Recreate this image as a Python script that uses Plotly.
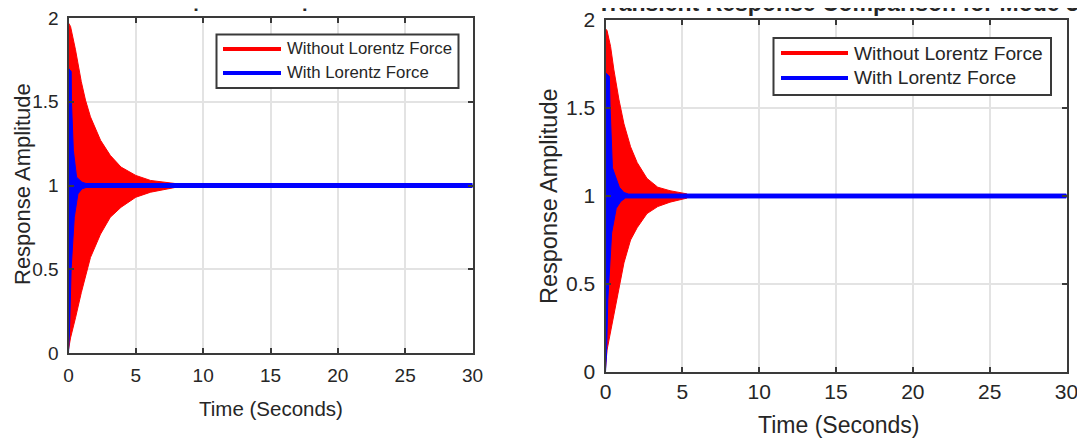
import plotly.graph_objects as go

# ---------------- data ----------------
# Left panel – without Lorentz force (red) envelope
L_red_t = [0, 0.15, 0.52, 0.95, 1.26, 1.63, 2.38, 3.1, 3.9, 5.0, 6.1, 7.0, 7.9]
L_red_up = [1.97, 1.95, 1.81, 1.62, 1.51, 1.41, 1.27, 1.18, 1.11, 1.06, 1.03, 1.02, 1.012]
L_red_lo = [0.02, 0.09, 0.21, 0.36, 0.46, 0.57, 0.71, 0.81, 0.87, 0.93, 0.96, 0.975, 0.988]
# Left panel – with Lorentz force (blue) envelope
L_blue_up_t = [0, 0.2, 0.22, 0.36, 0.6, 1.0, 1.3, 30]
L_blue_up = [1.70, 1.68, 1.50, 1.21, 1.05, 1.02, 1.012, 1.012]
L_blue_lo_t = [0, 0.07, 0.2, 0.43, 0.7, 1.0, 1.3, 30]
L_blue_lo = [0.0, 0.12, 0.51, 0.81, 0.95, 0.98, 0.988, 0.988]

# Right panel – without Lorentz force (red) envelope
R_red_t = [0, 0.1, 0.33, 0.54, 0.87, 1.2, 1.63, 2.06, 2.7, 3.4, 4.2, 5.3]
R_red_up = [1.95, 1.94, 1.85, 1.72, 1.55, 1.41, 1.28, 1.19, 1.10, 1.05, 1.03, 1.012]
R_red_lo = [0.02, 0.125, 0.22, 0.31, 0.47, 0.62, 0.75, 0.82, 0.90, 0.94, 0.965, 0.988]
# Right panel – with Lorentz force (blue) envelope
R_blue_up_t = [0, 0.25, 0.3, 0.45, 0.9, 1.2, 1.5, 30]
R_blue_up = [1.70, 1.68, 1.50, 1.16, 1.05, 1.02, 1.011, 1.011]
R_blue_lo_t = [0, 0.07, 0.15, 0.4, 0.7, 1.0, 1.3, 30]
R_blue_lo = [0.0, 0.11, 0.41, 0.79, 0.93, 0.97, 0.989, 0.989]

x_ticks = [0, 5, 10, 15, 20, 25, 30]
x_ticktext = ["0", "5", "10", "15", "20", "25", "30"]
y_ticks = [0, 0.5, 1, 1.5, 2]
y_ticktext = ["0", "0.5", "1", "1.5", "2"]

series_names = ["Without Lorentz Force", "With Lorentz Force"]
series_colors = ["#ff0000", "#0000ff"]
titles = ["Transient Response Comparison for Mode 2",
          "Transient Response Comparison for Mode 3"]
x_title = "Time (Seconds)"
y_title = "Response Amplitude"

# ---------------- figure ----------------
W, H = 1085, 440
OFF = 8  # page body margin of the written html
FONT = "Liberation Sans, Arial, Helvetica, sans-serif"
TXT = "#262626"
AX = "#3a3a3a"


def px(x):
    return (x - OFF) / W


def py(y):
    return 1 - (y - OFF) / H


def band(t_up, up, t_lo, lo):
    xs = list(t_up) + list(reversed(t_lo))
    ys = list(up) + list(reversed(lo))
    return xs, ys


fig = go.Figure()

panels = [
    ("x", "y", (L_red_t, L_red_up, L_red_t, L_red_lo),
     (L_blue_up_t, L_blue_up, L_blue_lo_t, L_blue_lo)),
    ("x2", "y2", (R_red_t, R_red_up, R_red_t, R_red_lo),
     (R_blue_up_t, R_blue_up, R_blue_lo_t, R_blue_lo)),
]
for xa, ya, red, blue in panels:
    for env, name, col in [(red, series_names[0], series_colors[0]),
                           (blue, series_names[1], series_colors[1])]:
        xs, ys = band(*env)
        fig.add_trace(go.Scatter(x=xs, y=ys, xaxis=xa, yaxis=ya, mode="lines",
                                 fill="toself", fillcolor=col,
                                 line=dict(color=col, width=1),
                                 name=name, showlegend=False, hoverinfo="skip"))

axis_common = dict(showline=True, linecolor=AX, linewidth=2, mirror="ticks",
                   ticks="inside", ticklen=5, tickwidth=1.5, tickcolor=AX,
                   showgrid=True, gridcolor="#e3e3e3", gridwidth=1.5,
                   zeroline=False, fixedrange=True, automargin=False,
                   ticklabeloverflow="allow")

fig.update_layout(
    width=W, height=H, margin=dict(l=0, r=0, t=0, b=0),
    paper_bgcolor="white", plot_bgcolor="white", showlegend=False,
    font=dict(family=FONT, color=TXT),
    xaxis=dict(domain=[px(68.5), px(472.5)], range=[0, 30], anchor="y",
               tickvals=x_ticks, ticktext=x_ticktext, ticklabelstandoff=4,
               tickfont=dict(size=19, color=TXT), **axis_common),
    yaxis=dict(domain=[py(353), py(18)], range=[0, 2], anchor="x",
               tickvals=y_ticks, ticktext=y_ticktext, ticklabelstandoff=4,
               tickfont=dict(size=19, color=TXT), **axis_common),
    xaxis2=dict(domain=[px(605.5), px(1066.5)], range=[0, 30], anchor="y2",
                tickvals=x_ticks, ticktext=x_ticktext,
                tickfont=dict(size=21, color=TXT), **axis_common),
    yaxis2=dict(domain=[py(372), py(20)], range=[0, 2], anchor="x2",
                tickvals=y_ticks, ticktext=y_ticktext, ticklabelstandoff=4,
                tickfont=dict(size=21, color=TXT), **axis_common),
)


def text_ann(text, x, y, size, angle=0, xanchor="center", bold=False):
    return dict(text=("<b>" + text + "</b>") if bold else text,
                x=px(x), y=py(y), xref="paper", yref="paper",
                xanchor=xanchor, yanchor="middle", textangle=angle,
                showarrow=False, font=dict(size=size, color=TXT, family=FONT))


ann = []
# titles (cut off at the top of the image)
ann.append(text_ann(titles[0], 271, 0, 20, bold=True))
# the left title is cropped higher in the reference: only descenders remain
ann.append(dict(text=" ", x=px(0), y=py(0), xref="paper", yref="paper",
                xanchor="left", yanchor="bottom", width=560, height=14,
                bgcolor="white", borderpad=0, showarrow=False))
ann.append(dict(text=" ", x=px(0), y=py(-8), xref="paper", yref="paper",
                xanchor="left", yanchor="top", width=560, height=14.5,
                bgcolor="white", borderpad=0, showarrow=False))
ann.append(text_ann(titles[1], 838, 3, 23, bold=True))
# axis titles
ann.append(text_ann(x_title, 271, 408, 20.5))
ann.append(text_ann(x_title, 838, 425, 23))
ann.append(text_ann(y_title, 22, 184, 22, angle=-90))
ann.append(text_ann(y_title, 549, 196, 23.5, angle=-90))

shapes = []
# manual legends (MATLAB-style boxes)
legends = [
    dict(box=(216.5, 34.5, 458.5, 88), line_x=(223, 281), rows=(49, 73),
         text_x=285, size=16.8),
    dict(box=(773.5, 38, 1051, 95), line_x=(781, 848), rows=(53, 78),
         text_x=852, size=19.2),
]
for lg in legends:
    x0, y0, x1, y1 = lg["box"]
    shapes.append(dict(type="rect", xref="paper", yref="paper",
                       x0=px(x0), x1=px(x1), y0=py(y1), y1=py(y0),
                       line=dict(color=AX, width=2), fillcolor="white",
                       layer="above"))
    for name, col, ry in zip(series_names, series_colors, lg["rows"]):
        shapes.append(dict(type="line", xref="paper", yref="paper",
                           x0=px(lg["line_x"][0]), x1=px(lg["line_x"][1]),
                           y0=py(ry), y1=py(ry),
                           line=dict(color=col, width=4), layer="above"))
        ann.append(text_ann(name, lg["text_x"], ry, lg["size"], xanchor="left"))

fig.update_layout(annotations=ann, shapes=shapes)
fig.write_html("out.html")
